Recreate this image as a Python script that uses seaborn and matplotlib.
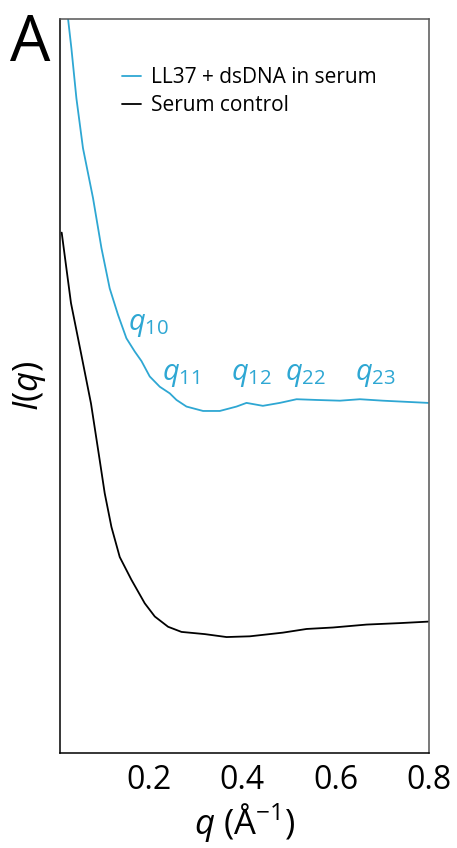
import pandas as pd
import seaborn as sns
import matplotlib.pyplot as plt
from matplotlib.lines import Line2D

# SAXS profiles (intensity in arbitrary units)
q_complex = [0.0271, 0.0344, 0.0451, 0.0592, 0.0807, 0.0987, 0.1164, 0.1342, 0.1522,
             0.1700, 0.1844, 0.2021, 0.2236, 0.2450, 0.2594, 0.2808, 0.3163, 0.3521,
             0.3879, 0.4093, 0.4443, 0.4807, 0.5165, 0.5593, 0.6093, 0.6520, 0.7014,
             0.7978]
i_complex = [100.1, 96.0, 89.2, 82.4, 75.6, 68.8, 63.3, 59.7, 56.5,
             54.7, 53.4, 51.3, 49.9, 49.0, 48.1, 47.2, 46.6, 46.6,
             47.2, 47.7, 47.3, 47.7, 48.2, 48.1, 48.0, 48.2, 48.0,
             47.7]

q_serum = [0.0136, 0.0335, 0.0549, 0.0764, 0.0950, 0.1057, 0.1201, 0.1379, 0.1629,
           0.1914, 0.2129, 0.2414, 0.2701, 0.3200, 0.3665, 0.4164, 0.4871, 0.5379,
           0.5943, 0.6665, 0.7378, 0.7978]
i_serum = [70.9, 61.3, 54.5, 47.6, 39.9, 35.4, 30.8, 26.7, 23.6,
           20.4, 18.6, 17.2, 16.5, 16.2, 15.8, 15.9, 16.4, 16.9,
           17.1, 17.5, 17.7, 17.9]

peak_labels = ["10", "11", "12", "22", "23"]
peak_x = [0.155, 0.228, 0.377, 0.491, 0.641]
peak_y = [57.6, 50.8, 50.8, 50.8, 50.8]

series_names = ["LL37 + dsDNA in serum", "Serum control"]
xticks = [0.2, 0.4, 0.6, 0.8]

BLUE = "#2ea7d3"

sns.set_theme(style="white")
plt.rcParams["font.family"] = ["Open Sans", "DejaVu Sans"]
plt.rcParams["mathtext.fontset"] = "custom"
plt.rcParams["mathtext.it"] = "Open Sans:italic"
plt.rcParams["mathtext.rm"] = "Open Sans"
plt.rcParams["text.color"] = "black"
plt.rcParams["axes.labelcolor"] = "black"
plt.rcParams["xtick.color"] = "black"

df = pd.concat([
    pd.DataFrame({"q": q_complex, "I": i_complex, "sample": series_names[0]}),
    pd.DataFrame({"q": q_serum, "I": i_serum, "sample": series_names[1]}),
])

fig = plt.figure(figsize=(4.57, 8.48), dpi=100)
ax = fig.add_axes([0.1313, 0.112, 0.8074, 0.8656])

sns.lineplot(data=df, x="q", y="I", hue="sample", palette=[BLUE, "black"],
             estimator=None, sort=False, linewidth=1.3, legend=False, ax=ax)

ax.set_xlim(0.01, 0.8)
ax.set_ylim(0, 100)
ax.set_xticks(xticks)
ax.set_xticklabels([f"{t:.1f}" for t in xticks])
ax.set_yticks([])
ax.tick_params(axis="x", direction="in", length=4, width=1, labelsize=23, pad=8)
ax.set_xlabel(r"$q$ (Å$^{-1}$)", fontsize=25, labelpad=3)
ax.set_ylabel(r"$I$($q$)", fontsize=25, labelpad=9)

for side in ["left", "bottom"]:
    ax.spines[side].set_color("black")
for side in ["top", "right"]:
    ax.spines[side].set_color("#555555")
for s in ax.spines.values():
    s.set_linewidth(1.1)

for lab, x, y in zip(peak_labels, peak_x, peak_y):
    ax.text(x, y, rf"$q_{{{lab}}}$", color=BLUE, fontsize=21,
            ha="left", va="baseline")

handles = [Line2D([], [], color=BLUE, lw=1.3), Line2D([], [], color="black", lw=1.3)]
ax.legend(handles, series_names, loc="upper left", bbox_to_anchor=(0.145, 0.946),
          frameon=False, fontsize=15, handlelength=0.9, handletextpad=0.5,
          labelspacing=0.35, borderaxespad=0)

fig.text(0.022, 0.928, "A", fontsize=46, ha="left", va="baseline")

fig.savefig("out.png", dpi=100)
